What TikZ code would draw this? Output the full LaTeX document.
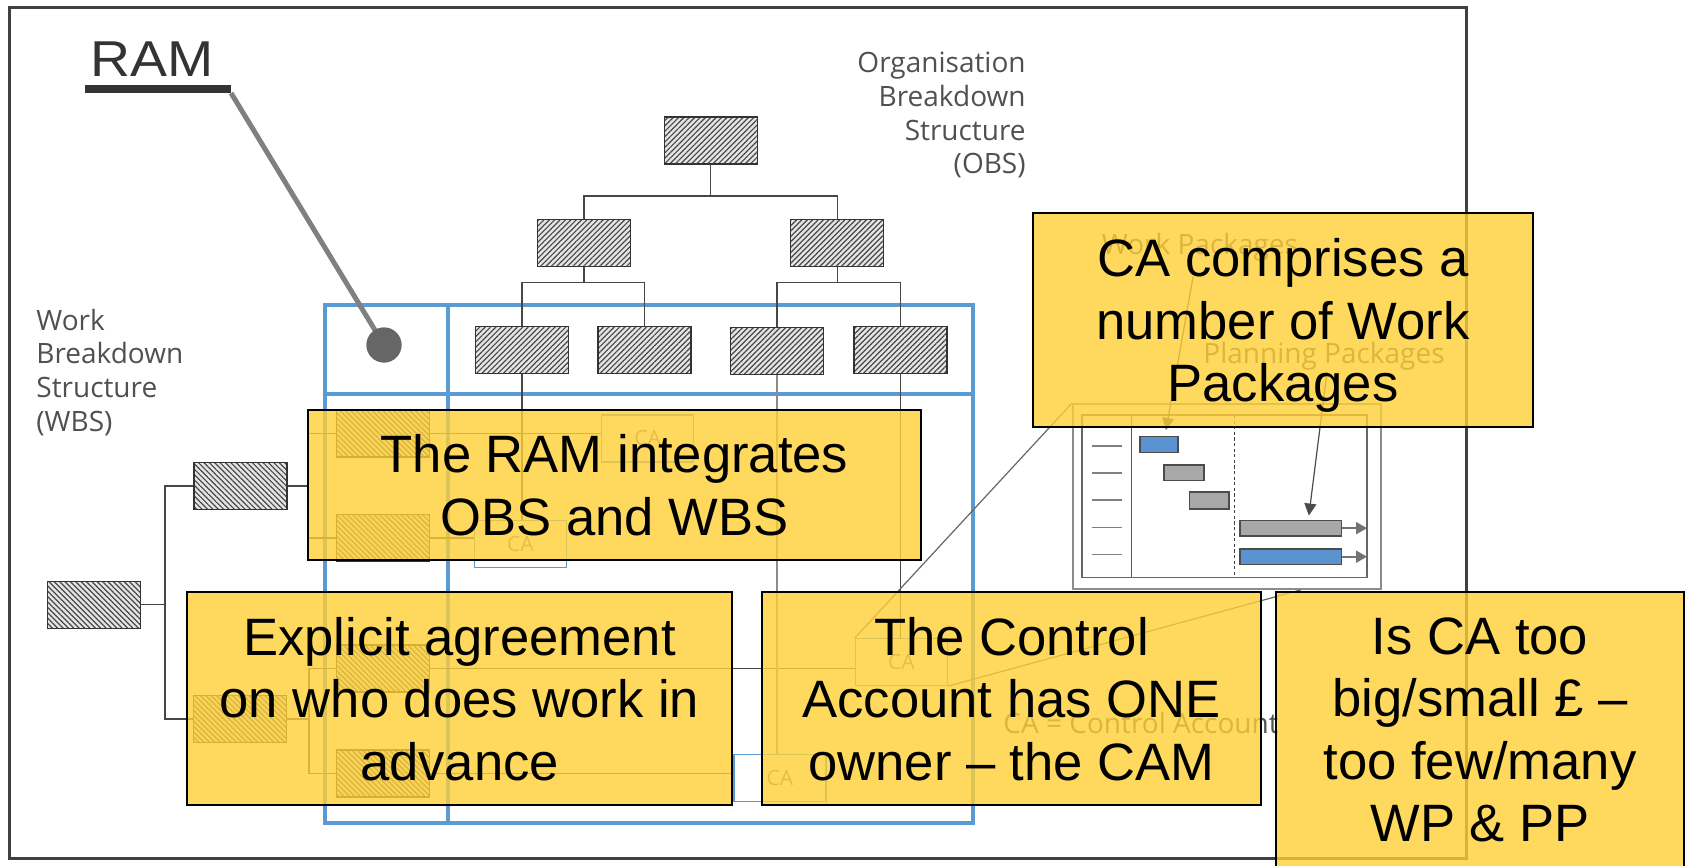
\documentclass[tikz,border=0pt]{standalone}
\usepackage{fontspec}
\setmainfont{Liberation Sans}
\newfontfamily\gillish{Open Sans}
\usetikzlibrary{patterns.meta,arrows.meta,calc}

\definecolor{framegray}{HTML}{404040}
\definecolor{ramblue}{HTML}{5B9BD5}
\definecolor{notefill}{RGB}{255,207,54}
\definecolor{labelgray}{HTML}{505050}
\definecolor{bluebar}{HTML}{5B93D0}
\definecolor{graybar}{HTML}{A8A8A8}

\begin{document}
\begin{tikzpicture}[x=0.5pt,y=-0.5pt,
  obsbox/.style={draw=black!80, line width=0.6pt, minimum width=46.5pt,
    minimum height=23.5pt, inner sep=0pt, preaction={fill=black!10},
    pattern={Lines[angle=45,distance=1.9pt,line width=0.6pt]}, pattern color=black!72},
  wbsbox/.style={obsbox, pattern={Lines[angle=-45,distance=1.9pt,line width=0.6pt]}},
  link/.style={draw=black!72, line width=0.6pt},
  cabox/.style={draw=ramblue, line width=0.6pt, fill=white, minimum width=46pt,
    minimum height=23.5pt, inner sep=0pt, text=black!50,
    font=\gillish\fontsize{10.5}{12}\selectfont},
  lab/.style={inner sep=0pt, text=labelgray, font=\gillish\fontsize{14}{16.9}\selectfont},
  faint/.style={inner sep=0pt, text=black!68, font=\gillish\fontsize{14}{15}\selectfont},
  bar/.style={draw=black!70, line width=0.7pt, inner sep=0pt, minimum height=7.9pt},
  note/.style={draw=black, line width=1pt, fill=notefill, fill opacity=0.8,
    text opacity=1, inner sep=0pt, align=center, text depth=0pt,
    font=\fontsize{26.3}{31.25}\selectfont},
  wparrow/.style={draw=black!70, line width=0.6pt, -{Triangle[length=6pt,width=6pt]}},
  barrow/.style={draw=black!55, line width=0.8pt, -{Triangle[length=5.5pt,width=6pt]}},
  zoomline/.style={draw=black!60, line width=0.6pt}
]
\useasboundingbox (0,0) rectangle (1685,866);
\clip (0,0) rectangle (1685,866);

% outer frame
\draw[framegray, line width=1.5pt] (9.6,7.3) rectangle (1466,858);

% responsibility matrix grid
\draw[ramblue, line width=1.6pt] (325,305) rectangle (973,823);
\draw[ramblue, line width=1.6pt] (448,305) -- (448,823);
\draw[ramblue, line width=1.6pt] (325,394) -- (973,394);

% organisation breakdown structure
\node[obsbox] (o0) at (710.7,140.5) {};
\node[obsbox] (o1) at (584,242.8) {};
\node[obsbox] (o2) at (837.3,242.8) {};
\node[obsbox] (o3) at (522,350) {};
\node[obsbox] (o4) at (644.4,350) {};
\node[obsbox] (o5) at (777,351) {};
\node[obsbox] (o6) at (900.4,350) {};
\coordinate (oj0) at (710.7,196);
\coordinate (oj1) at (584,282.7);
\coordinate (oj2) at (837.3,282.7);
\draw[link] (o0.south) -- (oj0);
\draw[link] (o1.north) |- (oj0) -| (o2.north);
\draw[link] (o1.south) -- (oj1);
\draw[link] (o3.north) |- (oj1) -| (o4.north);
\draw[link] (o2.south) -- (oj2);
\draw[link] (o5.north) |- (oj2) -| (o6.north);

% work breakdown structure
\node[wbsbox] (w0) at (93.7,604.7) {};
\node[wbsbox] (w1) at (240.4,486) {};
\node[wbsbox] (w2) at (240,719) {};
\node[wbsbox] (w3) at (383,433.4) {};
\node[wbsbox] (w4) at (383,537.9) {};
\node[wbsbox] (w5) at (383,668.4) {};
\node[wbsbox] (w6) at (383,773.4) {};
\coordinate (wj0) at (165,604.7);
\coordinate (wj1) at (308,486);
\coordinate (wj2) at (309,719);
\draw[link] (w0.east) -- (wj0);
\draw[link] (w1.west) -| (wj0) |- (w2.west);
\draw[link] (w1.east) -- (wj1);
\draw[link] (w3.west) -| (wj1) |- (w4.west);
\draw[link] (w2.east) -- (wj2);
\draw[link] (w5.west) -| (wj2) |- (w6.west);

% control accounts
\node[cabox] (ca1) at (647.7,438.4) {CA};
\node[cabox] (ca2) at (520.5,543.8) {CA};
\node[cabox] (ca3) at (901.5,662) {CA};
\node[cabox] (ca4) at (779.9,778) {CA};
\draw[link] (w3.east) -- (w3.east -| ca1.west);
\draw[link] (w4.east) -- (w4.east -| ca2.west);
\draw[link] (w5.east) -- (w5.east -| ca3.west);
\draw[link] (w6.east) -- (w6.east -| ca4.west);
\draw[link] (o3.south) -- (o3.south |- ca2.north);
\draw[link, draw=black!45, line width=1.1pt] (o5.south) -- (o5.south |- ca4.north);
\draw[link] (o6.south) -- (o6.south |- ca3.north);

% work package schedule
\node[draw=black!45, line width=0.8pt, fill=white, inner sep=0pt,
  minimum width=154pt, minimum height=92.5pt] (gout) at (1226.7,496.5) {};
\node[draw=black!60, line width=0.8pt, inner sep=0pt,
  minimum width=142.5pt, minimum height=81.15pt] (gin) at (1224.5,496.2) {};
\draw[black!65, line width=0.7pt] (1131.3,415) -- (1131.3,577.3);
\draw[black!75, line width=0.6pt, dash pattern=on 1.6pt off 1.2pt] (1234.3,415) -- (1234.3,577.3);
\foreach \ry in {446,473,500,527.3,554.3}
  \draw[black!50, line width=0.8pt] (1092.3,\ry) -- (1122.3,\ry);
\node[bar, fill=bluebar, minimum width=19pt] (bar1) at (1159,444.5) {};
\node[bar, fill=graybar, minimum width=20pt] (bar2) at (1184,472.85) {};
\node[bar, fill=graybar, minimum width=19.85pt, minimum height=8.5pt] (bar3) at (1209.15,500.5) {};
\node[bar, fill=graybar, minimum width=50.85pt] (bar4) at (1290.85,528.15) {};
\node[bar, fill=bluebar, minimum width=50.85pt] (bar5) at (1290.85,556.7) {};
\coordinate (b4end) at (1367,528.15);
\coordinate (b5end) at (1367,556.7);
\draw[barrow] (bar4.east) -- (b4end);
\draw[barrow] (bar5.east) -- (b5end);

\node[faint, anchor=base] (wplab) at (1200,255) {Work Packages};
\node[faint, anchor=base] (pplab) at (1324,363) {Planning Packages};
\coordinate (wpfrom) at (1193,277);
\coordinate (ppfrom) at (1327,372);
\draw[wparrow] (wpfrom) -- ($(bar1.north)+(7,-6)$);
\draw[wparrow] (ppfrom) -- ($(bar4.north)+(18,-4)$);

% callout from the schedule to its control account
\draw[zoomline] (gout.north west) -- (ca3.north west);
\draw[zoomline] ($(gout.south west)!0.74!(gout.south east)$) -- (ca3.south east);

% structure labels (anchored on the baseline of their last line)
\node[lab, anchor=base west, align=left] (wbslab) at (36,431.4)
  {Work\\Breakdown\\Structure\\(WBS)};
\node[lab, anchor=base east, align=right] (obslab) at (1026,174)
  {Organisation\\Breakdown\\Structure\\(OBS)};
\node[faint, anchor=base west] (calab) at (1003,733) {CA = Control Account};

% RAM title and pointer
\node[anchor=base west, inner sep=0pt, text=black!80,
  font=\fontsize{25.2}{30}\selectfont] (ramtitle) at (90,76.7) {\scalebox{1.1}[1]{RAM}};
\node[fill=black!80, inner sep=0pt, minimum width=72.85pt, minimum height=3.85pt]
  (ramul) at (157.85,88.85) {};
\node[circle, fill=black!60, inner sep=0pt, minimum size=17.5pt] (dot) at (384,345) {};
\draw[black!50, line width=2.5pt] (ramul.south east) -- (dot.center);
\node[circle, fill=black!60, inner sep=0pt, minimum size=17.5pt] at (dot) {};

% notes
\node[note, minimum width=306.5pt, minimum height=75pt] (n1) at (614.5,485)
  {The RAM integrates\\OBS and WBS};
\node[note, minimum width=272.5pt, minimum height=106.5pt] (n2) at (459.5,698.5)
  {Explicit agreement\\on who does work in\\advance};
\node[note, minimum width=249.5pt, minimum height=106.5pt] (n3) at (1011.5,698.5)
  {The Control\\Account has ONE\\owner -- the CAM};
\node[note, minimum width=204pt, minimum height=137.5pt] (n4) at (1480,729.5)
  {Is CA too\\big/small £ --\\too few/many\\WP \& PP};
\node[note, minimum width=250pt, minimum height=107pt] (n5) at (1283,320)
  {CA comprises a\\number of Work\\Packages};
\end{tikzpicture}
\end{document}
